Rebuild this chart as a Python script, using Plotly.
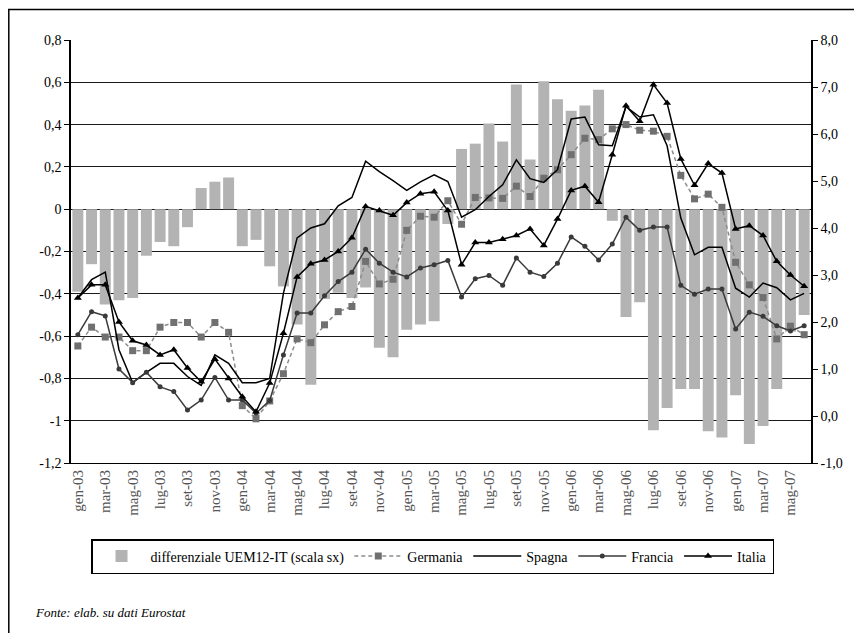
import plotly.graph_objects as go

months = ["gen", "feb", "mar", "apr", "mag", "giu", "lug", "ago", "set", "ott", "nov", "dic"]
categories = [f"{m}-{y:02d}" for y in range(3, 8) for m in months][:54]
tick_labels = categories[::2]

differenziale = [
    -0.39, -0.26, -0.45, -0.43, -0.42, -0.22, -0.155, -0.175, -0.085, 0.10, 0.13, 0.15,
    -0.175, -0.145, -0.27, -0.365, -0.545, -0.83, -0.425, -0.395, -0.42, -0.37, -0.655, -0.70,
    -0.57, -0.545, -0.53, -0.07, 0.285, 0.31, 0.405, 0.32, 0.59, 0.235, 0.605, 0.52,
    0.465, 0.49, 0.565, -0.055, -0.51, -0.44, -1.045, -0.94, -0.85, -0.85, -1.05, -1.08,
    -0.88, -1.11, -1.025, -0.85, -0.58, -0.50,
]
germania = [
    1.49, 1.89, 1.68, 1.68, 1.39, 1.39, 1.89, 1.99, 1.99, 1.68, 1.99, 1.78,
    0.22, -0.06, 0.32, 0.90, 1.64, 1.56, 1.94, 2.22, 2.33, 3.29, 2.81, 2.91,
    3.95, 4.25, 4.23, 4.58, 4.08, 4.65, 4.64, 4.63, 4.89, 4.67, 5.06, 5.24,
    5.56, 5.91, 5.88, 6.11, 6.20, 6.08, 6.06, 5.95, 5.12, 4.62, 4.72, 4.44,
    3.27, 2.79, 2.52, 1.64, 1.91, 1.73,
]
spagna = [
    2.51, 2.90, 3.06, 1.41, 0.71, 0.93, 1.12, 1.12, 0.84, 0.65, 1.30, 1.12,
    0.71, 0.71, 0.80, 2.61, 3.79, 4.00, 4.09, 4.47, 4.65, 5.42, 5.20, 5.01,
    4.80, 4.98, 5.13, 4.99, 4.23, 4.39, 4.67, 4.92, 5.45, 5.05, 4.97, 5.24,
    6.32, 6.36, 5.77, 5.75, 6.58, 6.36, 6.41, 5.75, 4.21, 3.43, 3.59, 3.59,
    2.72, 2.53, 2.83, 2.73, 2.47, 2.61,
]
francia = [
    1.73, 2.22, 2.13, 1.00, 0.71, 0.93, 0.62, 0.52, 0.13, 0.34, 0.82, 0.34,
    0.34, 0.06, 0.33, 1.30, 2.19, 2.19, 2.56, 2.86, 3.06, 3.55, 3.25, 3.06,
    2.96, 3.15, 3.22, 3.31, 2.53, 2.92, 2.99, 2.78, 3.36, 3.06, 2.97, 3.25,
    3.81, 3.61, 3.32, 3.66, 4.23, 3.95, 4.02, 4.02, 2.78, 2.59, 2.70, 2.70,
    1.85, 2.21, 2.12, 1.92, 1.81, 1.92,
]
italia = [
    2.51, 2.79, 2.79, 2.00, 1.60, 1.51, 1.30, 1.41, 1.02, 0.73, 1.21, 0.80,
    0.41, 0.09, 0.70, 1.76, 2.96, 3.24, 3.32, 3.50, 3.79, 4.46, 4.37, 4.27,
    4.54, 4.73, 4.77, 4.37, 3.22, 3.69, 3.69, 3.76, 3.84, 3.98, 3.63, 4.19,
    4.80, 4.89, 4.55, 5.56, 6.60, 6.27, 7.05, 6.66, 5.47, 4.91, 5.37, 5.17,
    3.98, 4.05, 3.84, 3.29, 3.00, 2.76,
]

left_ticks = [0.8, 0.6, 0.4, 0.2, 0, -0.2, -0.4, -0.6, -0.8, -1, -1.2]
left_text = ["0,8", "0,6", "0,4", "0,2", "0", "-0,2", "-0,4", "-0,6", "-0,8", "-1", "-1,2"]
right_ticks = [8, 7, 6, 5, 4, 3, 2, 1, 0, -1]
right_text = ["8,0", "7,0", "6,0", "5,0", "4,0", "3,0", "2,0", "1,0", "0,0", "-1,0"]

FONT = "Liberation Serif"

fig = go.Figure()
fig.add_trace(go.Bar(
    x=categories, y=differenziale, name="differenziale UEM12-IT (scala sx)",
    marker=dict(color="#b3b3b3", line=dict(width=0)), yaxis="y",
))
fig.add_trace(go.Scatter(
    x=categories, y=germania, name="Germania", yaxis="y2", mode="lines+markers",
    line=dict(color="#8c8c8c", width=1.5, dash="4px,3px"),
    marker=dict(symbol="square", size=7, color="#707070"),
))
fig.add_trace(go.Scatter(
    x=categories, y=spagna, name="Spagna", yaxis="y2", mode="lines",
    line=dict(color="#000000", width=1.5),
))
fig.add_trace(go.Scatter(
    x=categories, y=francia, name="Francia", yaxis="y2", mode="lines+markers",
    line=dict(color="#3a3a3a", width=1.5),
    marker=dict(symbol="circle", size=5, color="#3a3a3a"),
))
fig.add_trace(go.Scatter(
    x=categories, y=italia, name="Italia", yaxis="y2", mode="lines+markers",
    line=dict(color="#000000", width=1.5),
    marker=dict(symbol="triangle-up", size=7, color="#000000"),
))

# page body has an 8px margin: figure sits at (8, 8) in the window
OFF = 8
W, H = 862 - OFF, 633 - OFF
ml, mt = 71 - OFF, 40 - OFF
mr = W - (811 - OFF)
mb = H - (463 - OFF)
pw, ph = W - ml - mr, H - mt - mb


def px(xp):
    return (xp - OFF - ml) / pw


def py(yp):
    return (H - mb - (yp - OFF)) / ph


fig.update_layout(
    width=W, height=H,
    margin=dict(l=ml, r=mr, t=mt, b=mb, pad=0),
    paper_bgcolor="white", plot_bgcolor="white",
    font=dict(family=FONT, size=12, color="#000000"),
    bargap=0.2,
    showlegend=True,
    legend=dict(
        orientation="h", x=px(91), y=py(539), xanchor="left", yanchor="top",
        bordercolor="#000000", borderwidth=1.5, bgcolor="white",
        font=dict(family=FONT, size=14, color="#000000"),
        itemwidth=48, traceorder="normal",
    ),
    xaxis=dict(
        type="category", range=[-0.5, 53.5],
        tickmode="array", tickvals=tick_labels, ticktext=tick_labels,
        tickangle=-90, tickfont=dict(family=FONT, size=15, color="#555555"),
        showgrid=False, showline=True, linecolor="#000000", linewidth=1,
        ticks="", mirror=False,
    ),
    yaxis=dict(
        range=[-1.2, 0.8], tickmode="array", tickvals=left_ticks, ticktext=left_text,
        showgrid=True, gridcolor="#1a1a1a", gridwidth=1, zeroline=False,
        showline=True, linecolor="#000000", linewidth=1.5,
        ticks="outside", ticklen=5, tickcolor="#000000",
        tickfont=dict(family=FONT, size=14, color="#000000"),
    ),
    yaxis2=dict(
        range=[-1, 8], overlaying="y", side="right",
        tickmode="array", tickvals=right_ticks, ticktext=right_text,
        showgrid=False, zeroline=False,
        showline=True, linecolor="#000000", linewidth=1.5,
        ticks="outside", ticklen=5, tickcolor="#000000",
        tickfont=dict(family=FONT, size=14, color="#000000"),
    ),
    shapes=[
        dict(type="line", xref="paper", yref="paper", x0=px(8.8), x1=px(8.8), y0=py(9), y1=py(700),
             line=dict(color="#000000", width=1.5)),
        dict(type="line", xref="paper", yref="paper", x0=px(8), x1=px(900), y0=py(9.5), y1=py(9.5),
             line=dict(color="#000000", width=1.5)),
    ],
    annotations=[
        dict(text="<i>Fonte: elab. su dati Eurostat</i>", xref="paper", yref="paper",
             x=px(33), y=py(612), xanchor="left", yanchor="middle", showarrow=False,
             font=dict(family=FONT, size=13, color="#000000")),
    ],
)

fig.write_html("out.html")
